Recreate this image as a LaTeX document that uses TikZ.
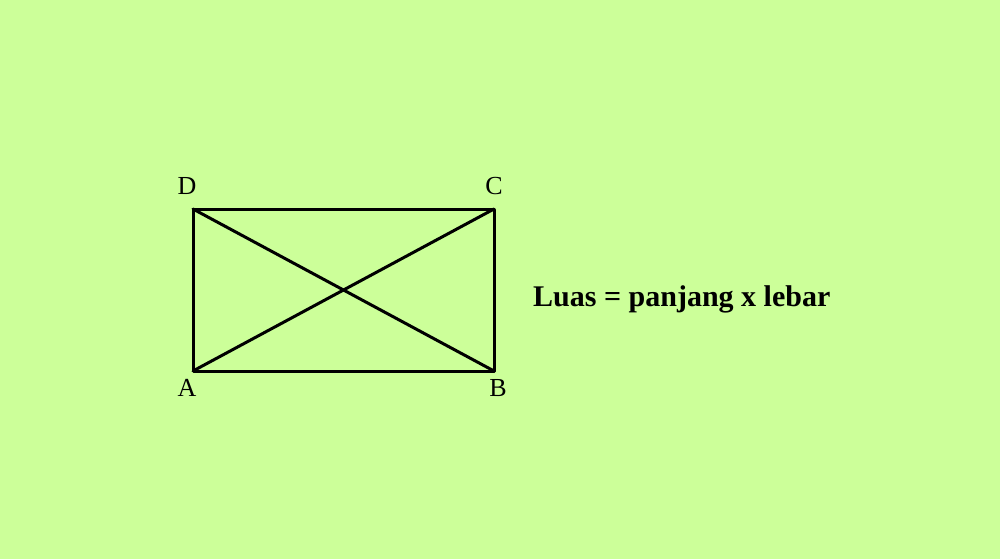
\documentclass[tikz,border=0pt]{standalone}
\usepackage{fontspec}
\setmainfont{Liberation Serif}
\definecolor{bg}{HTML}{CCFF99}
\begin{document}
\begin{tikzpicture}[x=1pt,y=-1pt,
  edge/.style={line width=3pt,line cap=round,line join=round},
  vlabel/.style={font=\fontsize{26}{30}\selectfont,inner sep=0pt},
  formula/.style={font=\fontsize{30}{34}\selectfont\bfseries,inner sep=0pt,anchor=base west}]
\fill[bg] (0,0) rectangle (1000,559);
\useasboundingbox (0,0) rectangle (1000,559);
\coordinate (A) at (193,371);
\coordinate (B) at (494,371);
\coordinate (C) at (494,209);
\coordinate (D) at (193,209);
\draw[edge] (A) -- (B) -- (C) -- (D) -- cycle;
\draw[edge] (A) -- (C);
\draw[edge] (D) -- (B);
\node[vlabel] (lD) at (187,186) {D};
\node[vlabel] (lC) at (494,186) {C};
\node[vlabel] (lA) at (187,388) {A};
\node[vlabel] (lB) at (498,388) {B};
\node[formula] (f) at (533,306) {Luas = panjang x lebar};
\end{tikzpicture}
\end{document}
